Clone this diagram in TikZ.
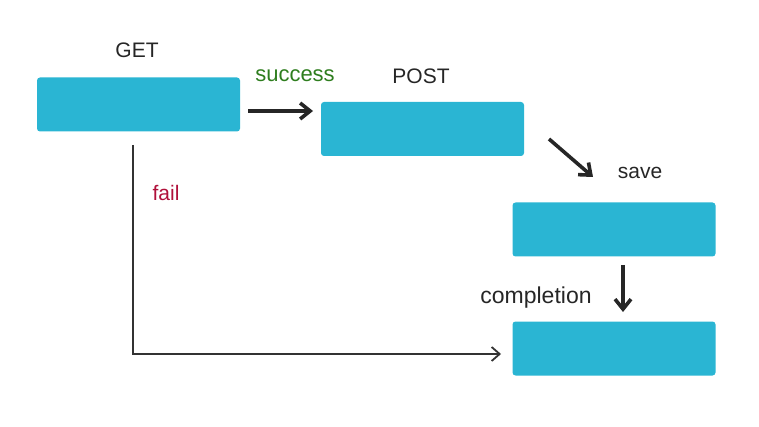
\documentclass[tikz,border=0pt]{standalone}
\usepackage{fontspec}
\setmainfont{Liberation Sans}
\usetikzlibrary{arrows.meta}
\definecolor{boxc}{HTML}{2AB5D3}
\definecolor{okc}{HTML}{2E7D1E}
\definecolor{failc}{HTML}{B0103A}
\begin{document}
\begin{tikzpicture}[x=1pt,y=-1pt,
  box/.style={fill=boxc,rounded corners=3pt,minimum width=203pt,minimum height=54pt,inner sep=0pt},
  lbl/.style={font=\fontsize{21}{25}\selectfont,text=black!85},
  thick arrow/.style={draw=black!85,line width=3.6pt,-{Straight Barb[length=10pt,width=16pt]}},
  thin arrow/.style={draw=black!80,line width=1.8pt,-{Straight Barb[length=8pt,width=14pt]}}]
\useasboundingbox (0,0) rectangle (759,427);
\node[box] (get) at (138.5,104.5) {};
\node[box] (post) at (422.5,129) {};
\node[box] (save) at (614,229.5) {};
\node[box] (comp) at (614,348.5) {};
\node[lbl] (tget) at (137,50) {GET};
\node[lbl] (tpost) at (421,76) {POST};
\node[lbl] (tsave) at (640,173) {save};
\node[lbl,font=\fontsize{23}{27}\selectfont] (tcomp) at (536,298) {completion};
\node[lbl,text=okc,font=\fontsize{22}{26}\selectfont] (tsucc) at (295,76) {success};
\node[lbl,text=failc] (tfail) at (166,193) {fail};
\coordinate (a1) at (248,111);
\coordinate (a2) at (313,111);
\draw[thick arrow] (a1) -- (a2);
\coordinate (b1) at (549,139);
\coordinate (b2) at (593,177);
\draw[thick arrow] (b1) -- (b2);
\coordinate (c1) at (623,265);
\coordinate (c2) at (623,312);
\draw[thick arrow] (c1) -- (c2);
\coordinate (f1) at (133,145);
\coordinate (f2) at (501,354);
\draw[thin arrow] (f1) |- (f2);
\end{tikzpicture}
\end{document}
